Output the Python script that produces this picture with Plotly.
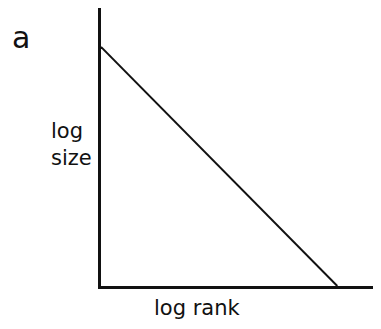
import plotly.graph_objects as go

# schematic rank-size line (normalised log units)
log_rank = [0.0, 0.853]
log_size = [0.86, 0.0]

panel_label = "a"
x_label = "log rank"
y_label = "log<br>size"

fig = go.Figure()
fig.add_trace(go.Scatter(x=log_rank, y=log_size, mode="lines",
                         line=dict(color="#111", width=2), hoverinfo="skip"))

font = dict(family="DejaVu Sans", size=21, color="#111")

# page body adds an 8px margin, so the figure is sized to fit inside it
fig.update_layout(
    width=373, height=321,
    margin=dict(l=93, r=3, t=0, b=43),
    paper_bgcolor="white", plot_bgcolor="white",
    showlegend=False,
    xaxis=dict(range=[0, 1], showgrid=False, zeroline=False, showticklabels=False,
               ticks="", showline=True, linecolor="#111", linewidth=2.5),
    yaxis=dict(range=[0, 1], showgrid=False, zeroline=False, showticklabels=False,
               ticks="", showline=True, linecolor="#111", linewidth=2.5),
    annotations=[
        dict(text=panel_label, xref="paper", yref="paper", x=-0.29, y=0.895,
             xanchor="center", yanchor="middle", showarrow=False,
             font=dict(family="DejaVu Sans", size=30, color="#111")),
        dict(text=y_label, xref="paper", yref="paper", x=-0.025, y=0.51,
             xanchor="right", yanchor="middle", showarrow=False, align="left",
             font=font),
        dict(text=x_label, xref="paper", yref="paper", x=0.35, y=-0.08,
             xanchor="center", yanchor="middle", showarrow=False, font=font),
    ],
)

fig.write_html("out.html")
